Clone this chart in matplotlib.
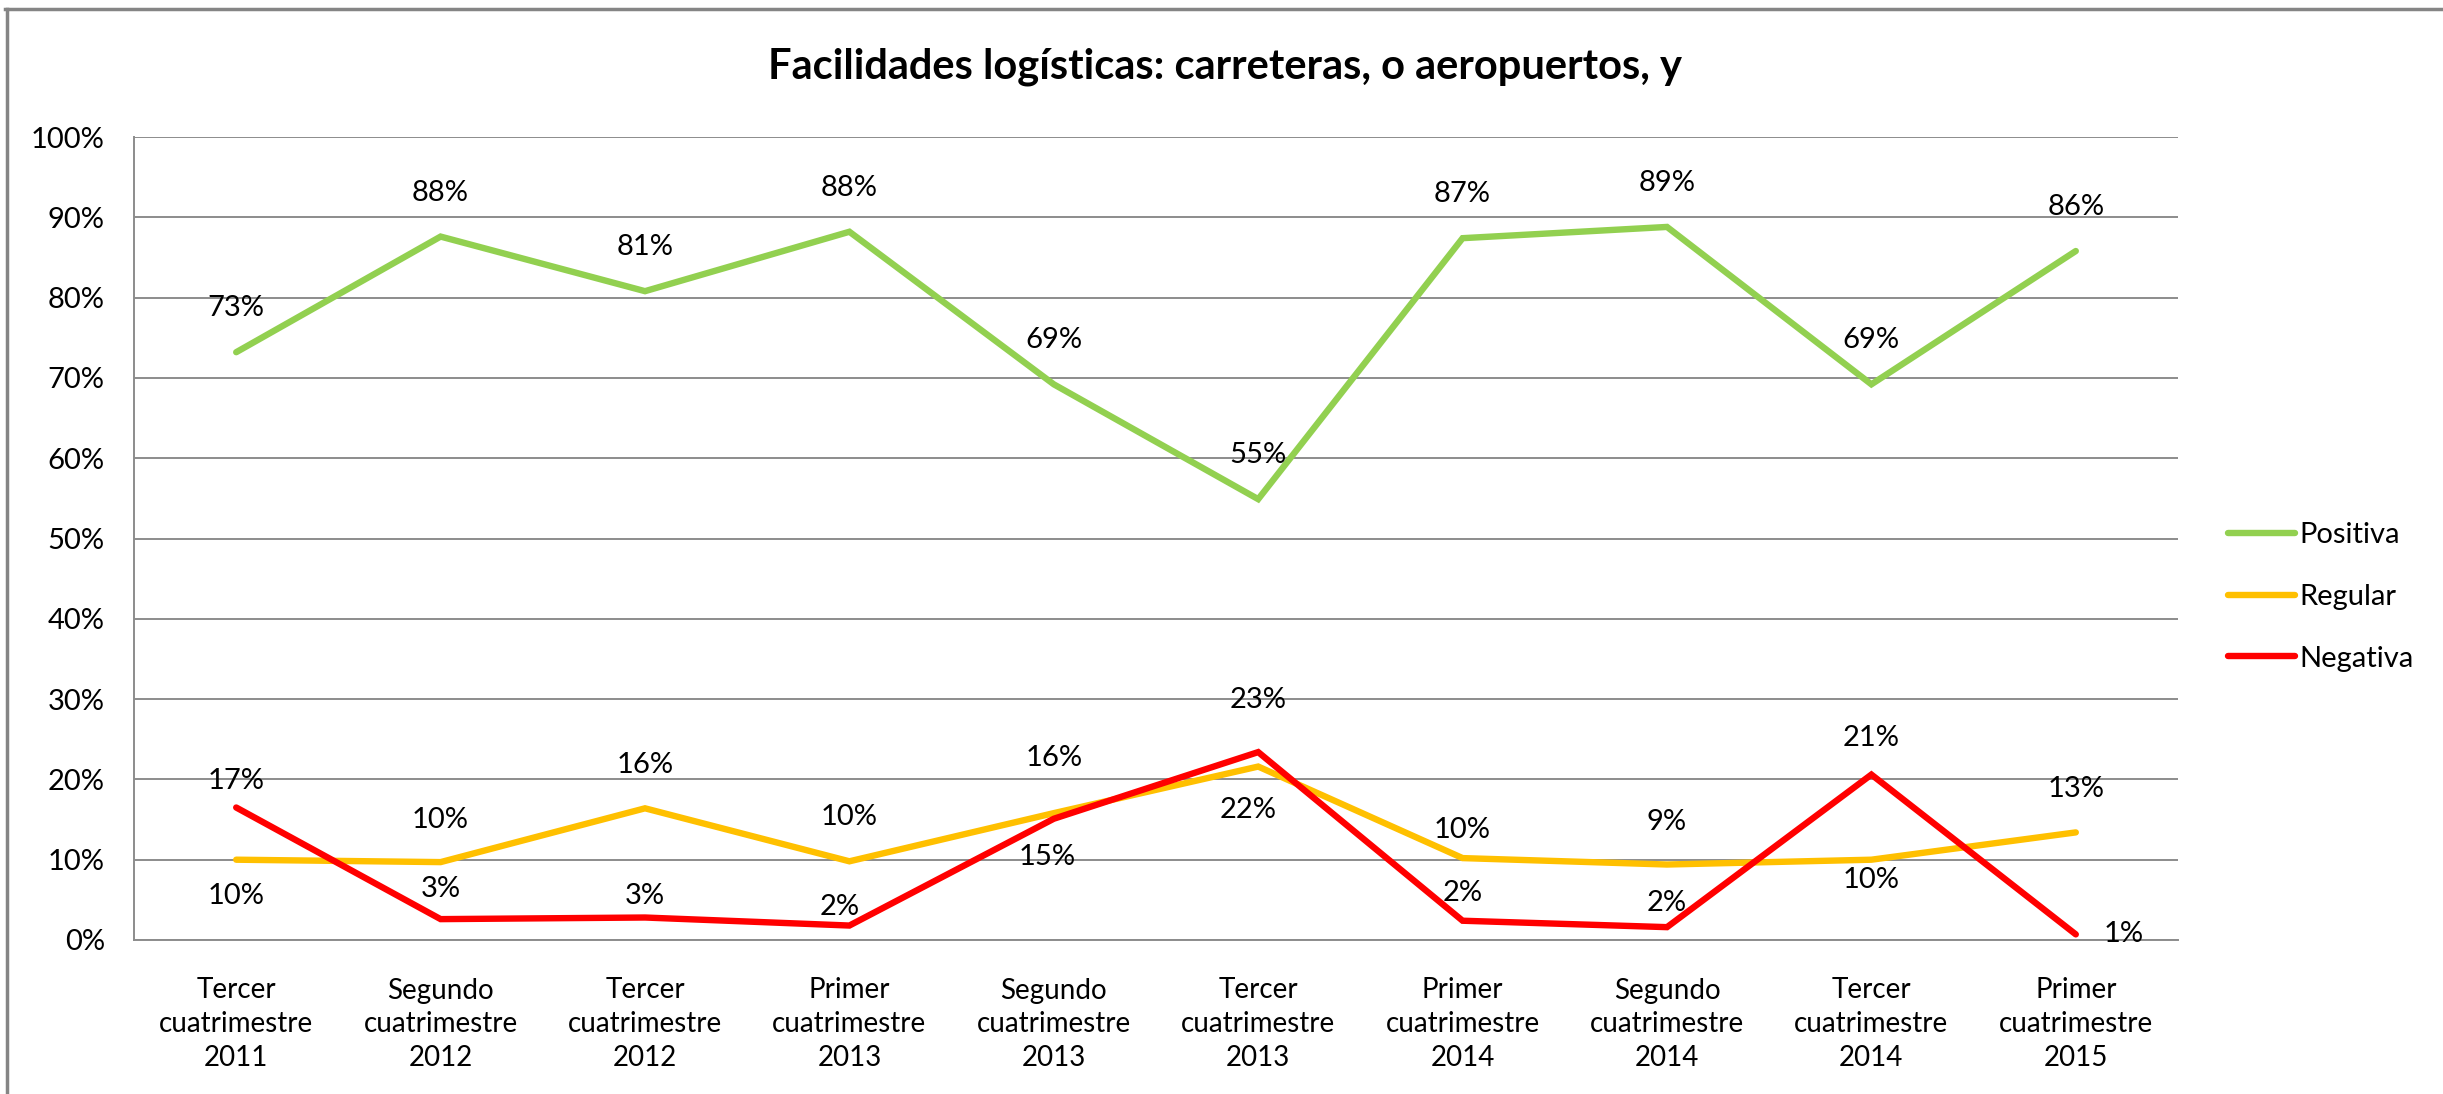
import matplotlib
matplotlib.use("Agg")
import matplotlib.pyplot as plt
from matplotlib.lines import Line2D
from matplotlib.ticker import PercentFormatter

# ---- data ----
categories = [
    "Tercer\ncuatrimestre\n2011", "Segundo\ncuatrimestre\n2012", "Tercer\ncuatrimestre\n2012",
    "Primer\ncuatrimestre\n2013", "Segundo\ncuatrimestre\n2013", "Tercer\ncuatrimestre\n2013",
    "Primer\ncuatrimestre\n2014", "Segundo\ncuatrimestre\n2014", "Tercer\ncuatrimestre\n2014",
    "Primer\ncuatrimestre\n2015",
]
positiva = [0.732, 0.876, 0.808, 0.882, 0.692, 0.549, 0.874, 0.888, 0.692, 0.858]
regular = [0.100, 0.097, 0.164, 0.098, 0.158, 0.216, 0.102, 0.094, 0.100, 0.134]
negativa = [0.165, 0.026, 0.028, 0.018, 0.151, 0.234, 0.024, 0.016, 0.206, 0.007]
series_names = ["Positiva", "Regular", "Negativa"]
title = "Facilidades logísticas: carreteras, o aeropuertos, y"
yticks = [0, 0.1, 0.2, 0.3, 0.4, 0.5, 0.6, 0.7, 0.8, 0.9, 1.0]

# ---- styles / label placement (pixel offsets) ----
colors = ["#92D050", "#FFC000", "#FF0000"]
off_pos = [(0, 44)] * 10
off_reg = [(0, -36), (0, 42), (0, 43), (0, 44), (0, 55), (-10, -43), (0, 28), (0, 43), (0, -20), (0, 43)]
off_neg = [(0, 27), (0, 30), (0, 22), (-10, 19), (-7, -38), (0, 52), (0, 28), (0, 24), (0, 37), (48, 0)]

plt.rcParams['font.family'] = ['Lato', 'DejaVu Sans']
FS = 21

fig = plt.figure(figsize=(24.43, 10.94), dpi=100)
W, H = 2443, 1094
ax = fig.add_axes([134 / W, 1 - 940 / H, (2178 - 134) / W, (940 - 137) / H])

x = list(range(len(categories)))
all_series = [positiva, regular, negativa]
all_offs = [off_pos, off_reg, off_neg]
for vals, name, col in zip(all_series, series_names, colors):
    ax.plot(x, vals, color=col, lw=4.6, solid_capstyle='round', solid_joinstyle='miter',
            label=name, zorder=3)
for vals, offs in zip(all_series, all_offs):
    for xi, v, (dx, dy) in zip(x, vals, offs):
        ax.annotate(f"{int(v * 100 + 0.5)}%", (xi, v), xytext=(dx, dy),
                    textcoords='offset pixels', ha='center', va='center',
                    fontsize=FS, color='black', zorder=4)

ax.set_xlim(-0.5, len(categories) - 0.5)
ax.set_ylim(0, 1.0)
ax.set_yticks(yticks)
ax.yaxis.set_major_formatter(PercentFormatter(1.0, decimals=0))
ax.set_xticks(x)
ax.set_xticklabels(categories, fontsize=FS - 1, linespacing=1.38)
ax.tick_params(axis='y', length=0, pad=21, labelsize=FS)
ax.tick_params(axis='x', length=0, pad=27)
ax.grid(axis='y', color='#8C8C8C', lw=1.4, zorder=1)
for s in ['top', 'right']:
    ax.spines[s].set_visible(False)
for s in ['left', 'bottom']:
    ax.spines[s].set_color('#8C8C8C')
    ax.spines[s].set_linewidth(1.4)

fig.text(0.5014, 1 - 78 / H, title, ha='center', va='baseline', fontsize=30,
         fontweight='bold', color='black')

fig.legend(loc='center left', bbox_to_anchor=(2228 / W, 1 - 597 / H), frameon=False,
           fontsize=FS, handlelength=2.3, handletextpad=0.15, labelspacing=1.22,
           borderpad=0, borderaxespad=0)

# chart border (top and left visible)
fig.add_artist(Line2D([6.5 / W, 6.5 / W], [0, 1 - 9 / H], transform=fig.transFigure,
                      color='#858585', lw=2.5))
fig.add_artist(Line2D([5 / W, 1], [1 - 9 / H, 1 - 9 / H], transform=fig.transFigure,
                      color='#858585', lw=2.5))

fig.savefig("out.png", dpi=100)
